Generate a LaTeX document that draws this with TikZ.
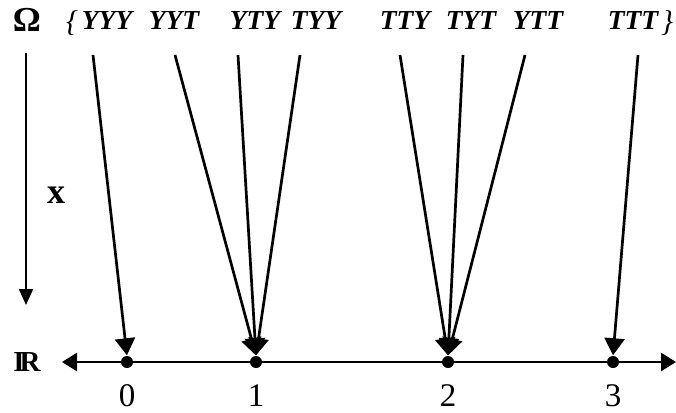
\documentclass[tikz,border=0pt]{standalone}
\usepackage{fontspec}
\newfontfamily\tmsfont{Liberation Serif}
\usetikzlibrary{arrows.meta}
\tikzset{
  outc/.style={font=\tmsfont\fontsize{27.5}{30}\selectfont\bfseries\itshape, anchor=base, inner sep=0pt},
  brc/.style={font=\tmsfont\fontsize{30}{32}\selectfont\itshape, anchor=base, inner sep=0pt},
  lbl/.style={font=\tmsfont\fontsize{33}{36}\selectfont, anchor=base, inner sep=0pt},
  dotn/.style={circle, fill=black, minimum size=12pt, inner sep=0pt},
  maparrow/.style={line width=2.7pt, -{Triangle[length=17pt,width=20pt]}, shorten >=0.5pt},
  axisline/.style={line width=2.7pt, {Triangle[length=15pt,width=18pt]}-{Triangle[length=15pt,width=18pt]}},
  xarrow/.style={line width=2pt, -{Triangle[length=16pt,width=14pt]}}
}
\begin{document}
\begin{tikzpicture}[x=1pt,y=-1pt]
\useasboundingbox (0,0) rectangle (676,412);
% set Omega
\node[font=\tmsfont\fontsize{35}{36}\selectfont\bfseries, anchor=base, inner sep=0pt] (omega) at (27,31) {Ω};
\node[brc] (lb) at (72,31) {\{};
\node[outc] (YYY) at (107,30) {YYY};
\node[outc] (YYT) at (174,30) {YYT};
\node[outc] (YTY) at (255,30) {YTY};
\node[outc] (TYY) at (316,30) {TYY};
\node[outc] (TTY) at (405,30) {TTY};
\node[outc] (TYT) at (471,30) {TYT};
\node[outc] (YTT) at (538,30) {YTT};
\node[outc] (TTT) at (633,30) {TTT};
\node[brc] (rb) at (667,31) {\}};
% starts of mapping lines
\coordinate (sYYY) at (93,55);
\coordinate (sYYT) at (175,55);
\coordinate (sYTY) at (238,55);
\coordinate (sTYY) at (300,55);
\coordinate (sTTY) at (400,55);
\coordinate (sTYT) at (463,55);
\coordinate (sYTT) at (525,55);
\coordinate (sTTT) at (638,55);
% real line
\node[font=\tmsfont\fontsize{29}{30}\selectfont\bfseries, anchor=base, inner sep=0pt] (R) at (27,371) {I\kern-0.17em R};
\coordinate (axL) at (62,362);
\coordinate (axR) at (676,362);
\draw[axisline] (axL) -- (axR);
\node[dotn] (d0) at (127,362) {};
\node[dotn] (d1) at (256,362) {};
\node[dotn] (d2) at (448,362) {};
\node[dotn] (d3) at (613,362) {};
\node[lbl] (l0) at (127,406) {0};
\node[lbl] (l1) at (256,406) {1};
\node[lbl] (l2) at (448,406) {2};
\node[lbl] (l3) at (613,406) {3};
% mapping arrows
\draw[maparrow] (sYYY) -- (d0.north);
\draw[maparrow] (sYYT) -- (d1.north);
\draw[maparrow] (sYTY) -- (d1.north);
\draw[maparrow] (sTYY) -- (d1.north);
\draw[maparrow] (sTTY) -- (d2.north);
\draw[maparrow] (sTYT) -- (d2.north);
\draw[maparrow] (sYTT) -- (d2.north);
\draw[maparrow] (sTTT) -- (d3.north);
% X arrow
\coordinate (xs) at (26,53);
\coordinate (xe) at (26,305);
\draw[xarrow] (xs) -- (xe);
\node[font=\tmsfont\fontsize{36}{38}\selectfont\bfseries, anchor=base, inner sep=0pt] (xlab) at (56,203) {x};
\end{tikzpicture}
\end{document}
